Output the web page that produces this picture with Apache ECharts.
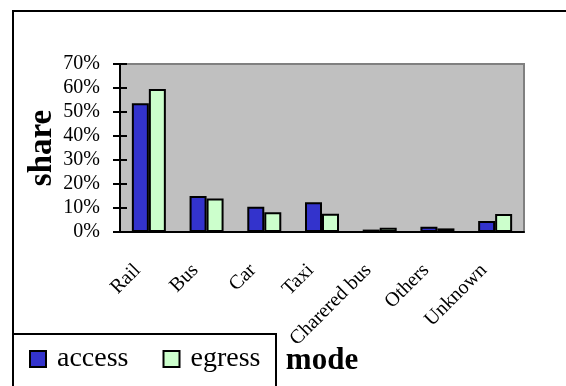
<!DOCTYPE html>
<html>
<head>
<meta charset="utf-8">
<script src="https://cdn.jsdelivr.net/npm/echarts@6/dist/echarts.min.js"></script>
<style>
  html, body { margin: 0; padding: 0; background: #fff; }
  #main { width: 566px; height: 386px; }
</style>
</head>
<body>
<div id="main"></div>
<script>
// categories of travel mode
var modes = ["Rail", "Bus", "Car", "Taxi", "Charered bus", "Others", "Unknown"];

// share of access trips
var accessShare = [0.536, 0.150, 0.105, 0.124, 0.010, 0.022, 0.046];

// share of egress trips
var egressShare = [0.596, 0.140, 0.082, 0.076, 0.018, 0.015, 0.075];

var serif = "Liberation Serif";

var myChart = echarts.init(document.getElementById("main"));

var option = {
    backgroundColor: "#fff",
    animation: false,
    textStyle: { fontFamily: serif, color: "#000" },
    grid: {
        left: 120,
        right: 42,
        top: 64,
        bottom: 154,
        show: true,
        backgroundColor: "#c0c0c0",
        borderColor: "#808080",
        borderWidth: 2
    },
    legend: {
        left: 24,
        top: 340,
        itemWidth: 16,
        itemHeight: 16,
        itemGap: 34,
        icon: "rect",
        textStyle: { fontFamily: serif, fontSize: 28, color: "#000", padding: [0, 0, 0, 6] },
        data: ["access", "egress"]
    },
    xAxis: [{
        type: "category",
        data: modes,
        name: "mode",
        nameLocation: "middle",
        nameGap: 113,
        nameMoveOverlap: false,
        nameTextStyle: { fontFamily: serif, fontSize: 31, fontWeight: "bold", color: "#000" },
        axisLine: { lineStyle: { color: "#000", width: 2 } },
        axisTick: { length: 8, lineStyle: { color: "#000", width: 2 } },
        axisLabel: {
            rotate: 45, margin: 24, padding: [0, 16, 0, 0],
            fontFamily: serif, fontSize: 20, color: "#000"
        },
        splitLine: { show: false }
    }, {
        // inner half of the crossing ticks
        type: "category",
        data: modes,
        position: "bottom",
        axisLine: { show: false },
        axisTick: { inside: true, length: 7, lineStyle: { color: "#000", width: 2 } },
        axisLabel: { show: false },
        splitLine: { show: false }
    }],
    yAxis: [{
        type: "value",
        min: 0,
        max: 0.7,
        interval: 0.1,
        name: "share",
        nameLocation: "middle",
        nameGap: 61,
        nameMoveOverlap: false,
        nameTextStyle: { fontFamily: serif, fontSize: 33, fontWeight: "bold", color: "#000" },
        axisLine: { show: true, lineStyle: { color: "#000", width: 2 } },
        axisTick: { show: true, length: 7, lineStyle: { color: "#000", width: 2 } },
        axisLabel: {
            margin: 20,
            fontFamily: serif,
            fontSize: 20,
            color: "#000",
            formatter: function (v) { return Math.round(v * 100) + "%"; }
        },
        splitLine: { show: false }
    }, {
        type: "value",
        min: 0,
        max: 0.7,
        interval: 0.1,
        position: "left",
        axisLine: { show: false },
        axisTick: { show: true, inside: true, length: 7, lineStyle: { color: "#000", width: 2 } },
        axisLabel: { show: false },
        splitLine: { show: false }
    }],
    series: [{
        name: "access",
        type: "bar",
        data: accessShare,
        barWidth: 17,
        barGap: "0%",
        itemStyle: { color: "#3333cc", borderColor: "#000", borderWidth: 2 }
    }, {
        name: "egress",
        type: "bar",
        data: egressShare,
        barWidth: 17,
        barGap: "0%",
        itemStyle: { color: "#ccffcc", borderColor: "#000", borderWidth: 2 }
    }],
    graphic: [{
        type: "rect",
        shape: { x: 13, y: 11, width: 600, height: 400 },
        style: { fill: null, stroke: "#000", lineWidth: 2 },
        silent: true,
        z: 100
    }, {
        type: "rect",
        shape: { x: 13, y: 334, width: 263, height: 80 },
        style: { fill: null, stroke: "#000", lineWidth: 2 },
        silent: true,
        z: 100
    }]
};

myChart.setOption(option);
</script>
</body>
</html>
